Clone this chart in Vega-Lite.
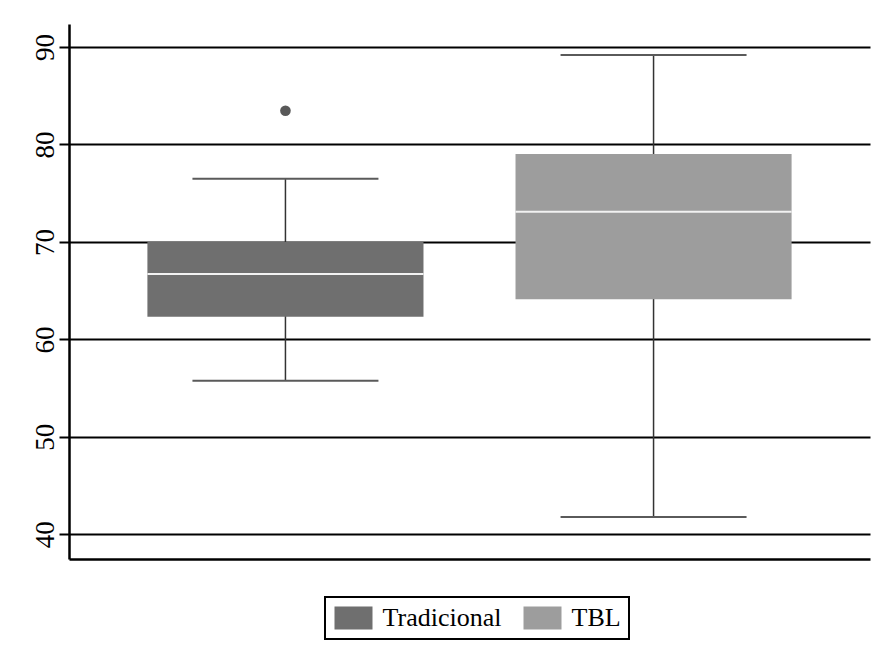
{
  "$schema": "https://vega.github.io/schema/vega-lite/v6.json",
  "width": 801,
  "height": 535,
  "autosize": {"type": "none"},
  "padding": {"left": 69, "top": 24, "right": 8, "bottom": 90},
  "background": "white",
  "config": {
    "view": {"stroke": null},
    "font": "Liberation Serif",
    "style": {"guide-label": {"font": "Liberation Serif", "fontSize": 27, "fill": "black"}},
    "axis": {"labelFont": "Liberation Serif", "labelFontSize": 27, "labelColor": "black"},
    "axisY": {"labelFont": "Liberation Serif", "labelFontSize": 27, "labelColor": "black"}
  },
  "datasets": {
    "boxes": [
      {"group": "Tradicional", "lower": 55.76, "q1": 62.33, "median": 66.7, "q3": 70.0, "upper": 76.49},
      {"group": "TBL", "lower": 41.77, "q1": 64.11, "median": 73.1, "q3": 79.02, "upper": 89.18}
    ],
    "outliers": [
      {"group": "Tradicional", "value": 83.46}
    ]
  },
  "encoding": {
    "x": {
      "field": "group",
      "type": "nominal",
      "sort": ["Tradicional", "TBL"],
      "scale": {"paddingInner": 0.25, "paddingOuter": 0.213},
      "axis": {"title": null, "labels": false, "ticks": false, "grid": false, "domain": true, "domainColor": "black", "domainWidth": 2.5}
    },
    "y": {
      "type": "quantitative",
      "scale": {"domain": [37.47, 92.36], "nice": false, "zero": false},
      "axis": {
        "title": null,
        "values": [40, 50, 60, 70, 80, 90],
        "grid": true,
        "gridColor": "black",
        "gridWidth": 2,
        "gridOpacity": 1,
        "tickColor": "black",
        "tickWidth": 2,
        "tickSize": 10,
        "domainColor": "black",
        "domainWidth": 2.5,
        "labelFont": "Liberation Serif",
        "labelFontSize": 27,
        "labelColor": "black",
        "labelAngle": 270,
        "labelAlign": "center",
        "labelBaseline": "alphabetic",
        "labelPadding": 6
      }
    }
  },
  "layer": [
    {
      "data": {"name": "boxes"},
      "mark": {"type": "rule", "color": "#333333", "strokeWidth": 1.5},
      "encoding": {
        "y": {"field": "lower", "type": "quantitative"},
        "y2": {"field": "upper"}
      }
    },
    {
      "data": {"name": "boxes"},
      "mark": {"type": "tick", "color": "#5a5a5a", "size": 186, "thickness": 2, "opacity": 1},
      "encoding": {"y": {"field": "lower", "type": "quantitative"}}
    },
    {
      "data": {"name": "boxes"},
      "mark": {"type": "tick", "color": "#5a5a5a", "size": 186, "thickness": 2, "opacity": 1},
      "encoding": {"y": {"field": "upper", "type": "quantitative"}}
    },
    {
      "data": {"name": "boxes"},
      "mark": {"type": "bar"},
      "encoding": {
        "y": {"field": "q1", "type": "quantitative"},
        "y2": {"field": "q3"},
        "color": {
          "field": "group",
          "type": "nominal",
          "scale": {"domain": ["Tradicional", "TBL"], "range": ["#6f6f6f", "#9d9d9d"]},
          "legend": {
            "title": null,
            "orient": "none",
            "legendX": 256,
            "legendY": 573,
            "direction": "horizontal",
            "strokeColor": "black",
            "fillColor": "white",
            "padding": 8,
            "symbolType": "M-1.652,-1H1.652V1H-1.652Z",
            "symbolSize": 529,
            "symbolOffset": 7.5,
            "symbolStrokeWidth": 0,
            "symbolOpacity": 1,
            "labelFont": "Liberation Serif",
            "labelFontSize": 26,
            "labelColor": "black",
            "labelOffset": 16,
            "columnPadding": 20,
            "labelLimit": 300,
            "encode": {"legend": {"update": {"strokeWidth": {"value": 2}}}}
          }
        }
      }
    },
    {
      "data": {"name": "boxes"},
      "mark": {"type": "tick", "color": "#f2f2f2", "size": 276, "thickness": 2, "opacity": 1},
      "encoding": {"y": {"field": "median", "type": "quantitative"}}
    },
    {
      "data": {"name": "outliers"},
      "mark": {"type": "point", "filled": true, "color": "#595959", "size": 113, "opacity": 1},
      "encoding": {"y": {"field": "value", "type": "quantitative"}}
    }
  ]
}
